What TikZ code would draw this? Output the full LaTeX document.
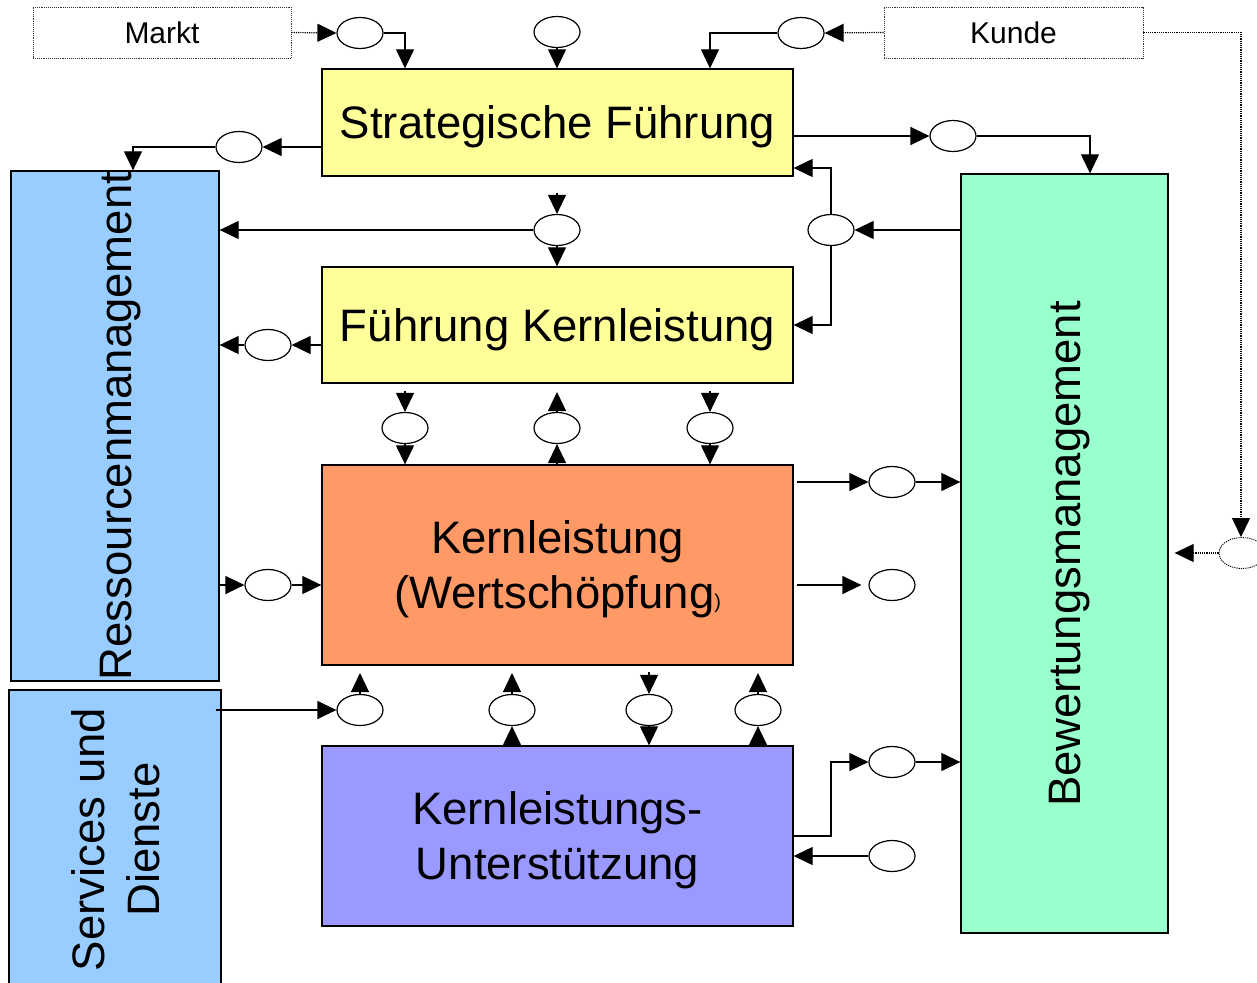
\documentclass[tikz,border=0pt]{standalone}
\usepackage{fontspec}
\setmainfont{Liberation Sans}
\usetikzlibrary{arrows.meta,shapes.geometric}

\begin{document}
\begin{tikzpicture}[x=1pt,y=-1pt,
  box/.style={draw=black, line width=1.3pt, inner sep=0pt},
  boxtext/.style={inner sep=0pt, align=center, font=\fontsize{45.5}{54.6}\selectfont},
  turned/.style={boxtext, rotate=90},
  extbox/.style={draw=black!80, densely dotted, line width=0.9pt, inner sep=0pt,
    minimum width=258pt, minimum height=51pt, font=\fontsize{30}{36}\selectfont},
  hole/.style={ellipse, draw, line width=1.2pt, fill=white, minimum width=46pt,
    minimum height=31pt, inner sep=0pt},
  flow/.style={line width=1.2pt, -{Triangle[length=19pt,width=18pt]}},
  dflow/.style={flow, densely dotted}
]
\useasboundingbox (0,0) rectangle (1257,982);

% ---- main blocks ----
\node[box, fill={rgb,255:red,255;green,255;blue,153}, minimum width=471pt, minimum height=107pt]
  (sf) at (557.5,122.5) {};
\node[boxtext] (sft) at (557.5,127) {Strategische Führung};
\node[box, fill={rgb,255:red,255;green,255;blue,153}, minimum width=471pt, minimum height=116pt]
  (fk) at (557.5,325) {};
\node[boxtext] (fkt) at (557.5,329.5) {Führung Kernleistung};
\node[box, fill={rgb,255:red,255;green,153;blue,102}, minimum width=471pt, minimum height=200pt]
  (kl) at (557.5,565) {};
\node[boxtext] (klt) at (557.5,569.5) {Kernleistung\\(Wertschöpfung{\fontsize{20}{20}\selectfont)}};
\node[box, fill={rgb,255:red,153;green,153;blue,255}, minimum width=471pt, minimum height=180pt]
  (klu) at (557.5,836) {};
\node[boxtext] (klut) at (557.5,840.5) {Kernleistungs-\\Unterstützung};

\node[box, fill={rgb,255:red,153;green,204;blue,255}, minimum width=208pt, minimum height=510pt]
  (rm) at (115,426) {};
\node[turned] (rmt) at (121,426) {Ressourcenmanagement};
\node[box, fill={rgb,255:red,153;green,204;blue,255}, minimum width=212pt, minimum height=300pt]
  (sd) at (115,840) {};
\node[turned] (sdt) at (115.5,839.5) {Services und\\Dienste};
\node[box, fill={rgb,255:red,153;green,255;blue,204}, minimum width=207pt, minimum height=759pt]
  (bm) at (1064.5,553.5) {};
\node[turned] (bmt) at (1070,554) {Bewertungsmanagement};

% ---- external partners ----
\node[extbox] (markt) at (162,32.5) {Markt};
\node[extbox, minimum width=259pt] (kunde) at (1013.5,32.5) {Kunde};

% ---- interfaces ----
\node[hole] (e1) at (360,33) {};
\node[hole] (e2) at (557,32) {};
\node[hole] (e3) at (801,33) {};
\node[hole] (e4) at (239,147) {};
\node[hole] (e5) at (953,136) {};
\node[hole] (e6) at (557,230) {};
\node[hole] (e7) at (831,230) {};
\node[hole] (e8) at (268,345) {};
\node[hole] (e9) at (405,428) {};
\node[hole] (e10) at (557,428) {};
\node[hole] (e11) at (710,428) {};
\node[hole] (e12) at (892,482) {};
\node[hole] (e13) at (268,585) {};
\node[hole] (e14) at (892,585) {};
\node[hole] (e15) at (360,710) {};
\node[hole] (e16) at (512,710) {};
\node[hole] (e17) at (649,710) {};
\node[hole] (e18) at (758,710) {};
\node[hole] (e19) at (892,762) {};
\node[hole] (e20) at (892,856) {};
\node[hole, densely dotted, line width=0.9pt] (e21) at (1242,553) {};

% free arrow ends
\coordinate (a6) at (557,193);
\coordinate (a9) at (405,391);
\coordinate (a10) at (557,392);
\coordinate (a11) at (710,391);
\coordinate (a15) at (360,673);
\coordinate (a16) at (512,673);
\coordinate (a17) at (649,672);
\coordinate (a18) at (758,673);

% ---- connectors: top ----
\draw[dflow] (markt.east) -- (e1.west);
\draw[flow] (e1.east) -| (sf.north -| e9);
\draw[flow] (e2.south) -- (e2.south |- sf.north);
\draw[dflow] (kunde.west) -- (e3.east);
\draw[flow] (e3.west) -| (sf.north -| e11);
\draw[dflow] (kunde.east) -| ([xshift=-1pt]e21.north);
\draw[dflow, shorten >=6pt] (e21.west) -- (bm.east |- e21);

% ---- Strategische Führung ----
\draw[flow] (sf.west |- e4) -- (e4.east);
\draw[flow] (e4.west) -| ([xshift=18pt]rm.north);
\draw[flow] (sf.east |- e5) -- (e5.west);
\draw[flow] (e5.east) -| ([xshift=25.5pt]bm.north);
\draw[flow] (a6) -- (e6.north);
\draw[flow] (e6.south) -- (e6.south |- fk.north);
\draw[flow] (e6.west) -- (rm.east |- e6);
\draw[flow] (bm.west |- e7) -- (e7.east);
\draw[flow] (e7.north) |- ([yshift=-45.5pt]sf.east);
\draw[flow] (e7.south) |- (fk.east);

% ---- Führung Kernleistung ----
\draw[flow] (fk.west |- e8) -- (e8.east);
\draw[flow] (e8.west) -- (rm.east |- e8);
\draw[flow] (a9) -- (e9.north);
\draw[flow] (e9.south) -- (e9.south |- kl.north);
\draw[flow] (e10.south |- kl.north) -- (e10.south);
\draw[flow] (e10.north) -- (a10);
\draw[flow] (a11) -- (e11.north);
\draw[flow] (e11.south) -- (e11.south |- kl.north);

% ---- Kernleistung ----
\draw[flow] (rm.east |- e13) -- (e13.west);
\draw[flow] (e13.east) -- (kl.west |- e13);
\draw[flow] ([xshift=3pt]kl.east |- e12) -- (e12.west);
\draw[flow] (e12.east) -- (bm.west |- e12);
\draw[flow, shorten >=7pt] ([xshift=3pt]kl.east |- e14) -- (e14.west);

% ---- Kernleistungs-Unterstützung ----
\draw[flow] ([xshift=-6pt]sd.east |- e15) -- (e15.west);
\draw[flow] (e15.north) -- (a15);
\draw[flow] (e16.south |- klu.north) -- (e16.south);
\draw[flow] (e16.north) -- (a16);
\draw[flow] (a17) -- (e17.north);
\draw[flow] (e17.south) -- (e17.south |- klu.north);
\draw[flow] (e18.south |- klu.north) -- (e18.south);
\draw[flow] (e18.north) -- (a18);
\draw[flow] (klu.east) -- (klu.east -| e7) |- (e19.west);
\draw[flow] (e19.east) -- (bm.west |- e19);
\draw[flow] (e20.west) -- (klu.east |- e20);
\end{tikzpicture}
\end{document}
